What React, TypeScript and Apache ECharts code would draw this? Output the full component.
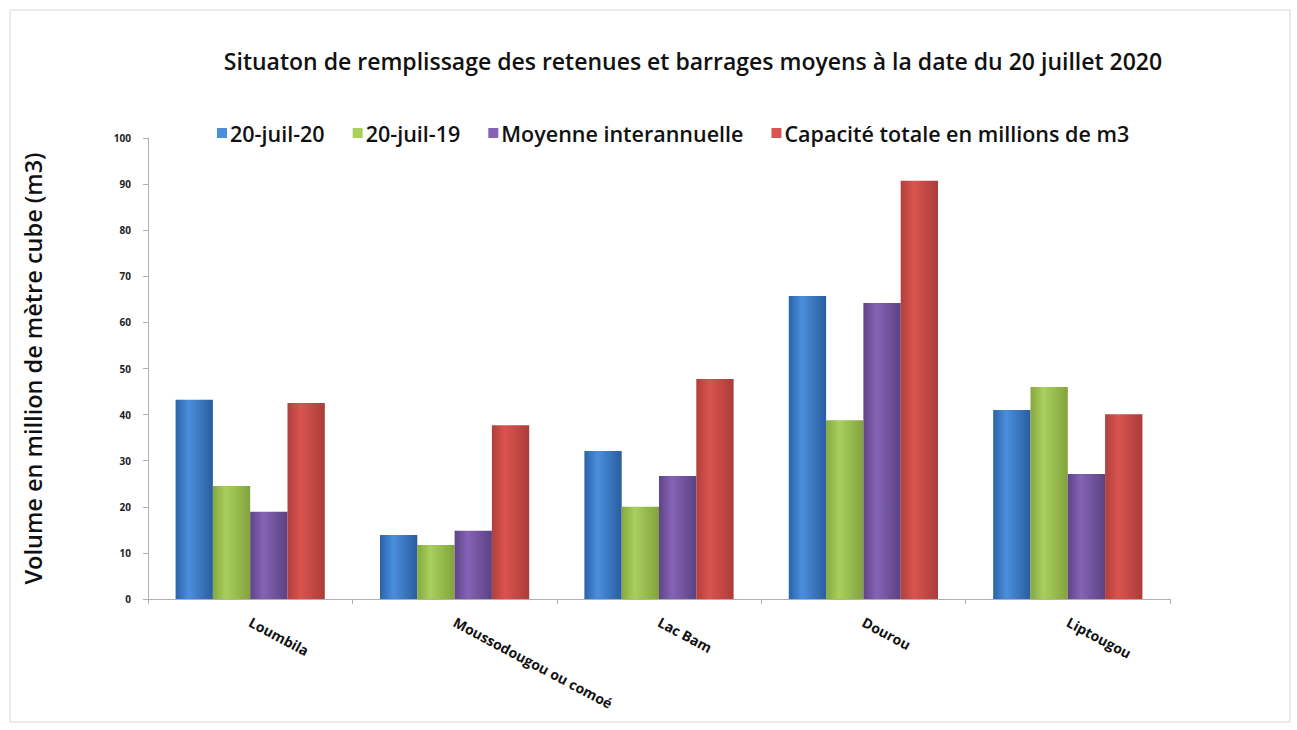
import React, { useEffect, useRef } from "react";
import * as echarts from "echarts";

const categories = ["Loumbila", "Moussodougou ou comoé", "Lac Bam", "Dourou", "Liptougou"];
const seriesNames = ["20-juil-20", "20-juil-19", "Moyenne interannuelle", "Capacité totale en millions de m3"];
const s2020 = [43.2, 13.9, 32.1, 65.7, 41.0];
const s2019 = [24.5, 11.7, 20.0, 38.8, 46.0];
const sMoy = [18.9, 14.8, 26.7, 64.2, 27.1];
const sCap = [42.5, 37.7, 47.7, 90.7, 40.1];
const yTicks = { min: 0, max: 100, interval: 10 };

const colors = [
  ["#2a62a8", "#4a8fdc", "#2a5d9f"],
  ["#86a83f", "#a9cf5e", "#82a33c"],
  ["#5f4587", "#8563b6", "#5b4282"],
  ["#b13f3c", "#d9544f", "#ab3c39"],
];

function grad(c: string[]) {
  return new echarts.graphic.LinearGradient(0, 0, 1, 0, [
    { offset: 0, color: c[0] },
    { offset: 0.35, color: c[1] },
    { offset: 1, color: c[2] },
  ]);
}

export default function App() {
  const ref = useRef<HTMLDivElement>(null);
  useEffect(() => {
    if (!ref.current) return;
    const chart = echarts.init(ref.current, undefined, { renderer: "svg" });
    const data = [s2020, s2019, sMoy, sCap];
    chart.setOption({
      animation: false,
      backgroundColor: "#ffffff",
      textStyle: { fontFamily: "Open Sans" },
      title: {
        text: "Situaton de remplissage des retenues et barrages moyens à la date du 20 juillet 2020",
        left: 688,
        textAlign: "center",
        top: 44,
        textStyle: { fontSize: 23, fontWeight: 600, color: "#111", fontFamily: "Open Sans" },
      },
      legend: {
        left: 212,
        top: 117,
        itemWidth: 10,
        itemHeight: 10,
        itemGap: 28,
        icon: "rect",
        textStyle: { fontSize: 21.5, fontWeight: 600, color: "#111", fontFamily: "Open Sans", padding: [0, 0, 0, -2] },
        data: seriesNames.map((n, i) => ({ name: n, itemStyle: { color: colors[i][1] } })),
      },
      graphic: [
        {
          type: "rect",
          shape: { x: 10, y: 10, width: 1280, height: 712 },
          style: { fill: "none", stroke: "#d8d8d8", lineWidth: 1 },
          silent: true,
        },
      ],
      grid: { left: 148, right: 127, top: 138, bottom: 131 },
      xAxis: {
        type: "category",
        data: categories,
        axisLine: { lineStyle: { color: "#b0b0b0" } },
        axisTick: { show: true, alignWithLabel: false, length: 5, lineStyle: { color: "#b0b0b0" } },
        axisLabel: {
          rotate: -28,
          fontSize: 14,
          fontWeight: 700,
          color: "#111",
          fontFamily: "Open Sans",
          margin: 22,
        },
      },
      yAxis: {
        type: "value",
        min: yTicks.min,
        max: yTicks.max,
        interval: yTicks.interval,
        name: "Volume en million de mètre cube (m3)",
        nameLocation: "middle",
        nameGap: 103,
        nameTextStyle: { fontSize: 23.5, fontWeight: 600, color: "#111", fontFamily: "Open Sans" },
        axisLine: { show: true, lineStyle: { color: "#b0b0b0" } },
        axisTick: { show: true, length: 5, lineStyle: { color: "#b0b0b0" } },
        splitLine: { show: false },
        axisLabel: { fontSize: 10, fontWeight: 700, color: "#222", margin: 17, fontFamily: "Open Sans" },
      },
      series: data.map((d, i) => ({
        name: seriesNames[i],
        type: "bar",
        data: d,
        barGap: "0%",
        barCategoryGap: "27%",
        itemStyle: { color: grad(colors[i]) },
      })),
    });
    return () => chart.dispose();
  }, []);
  return <div ref={ref} style={{ position: "fixed", left: 0, top: 0, width: 1297, height: 730 }} />;
}
